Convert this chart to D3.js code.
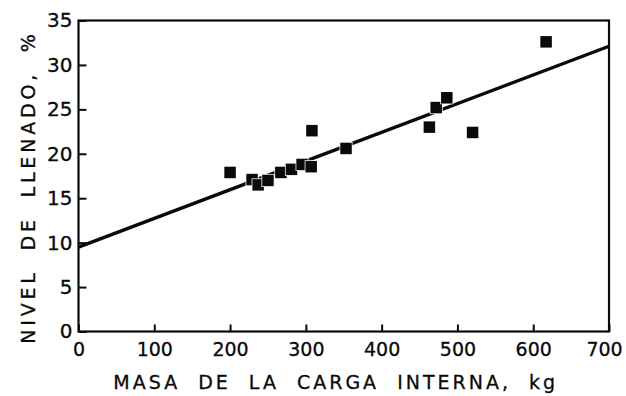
<!DOCTYPE html>
<html>
<head>
<meta charset="utf-8">
<script src="https://cdn.jsdelivr.net/npm/d3@7"></script>
<style>
  body { margin: 0; background: #fff; }
  svg { display: block; }
</style>
</head>
<body>
<svg id="chart"></svg>
<script>
// Measured points: internal load mass (kg) vs fill level (%)
const masa = [200, 229, 237, 250, 267, 281, 295, 307, 308, 353, 463, 472, 486, 520, 617];
const nivel = [17.9, 17.1, 16.5, 17.0, 17.9, 18.25, 18.8, 18.55, 22.6, 20.6, 23.0, 25.2, 26.3, 22.4, 32.6];

// fitted straight line (end points)
const lineX = [0, 700];
const lineY = [9.5, 32.1];

const xTicks = [0, 100, 200, 300, 400, 500, 600, 700];
const yTicks = [0, 5, 10, 15, 20, 25, 30, 35];
const xTickLabels = ["0", "100", "200", "300", "400", "500", "600", "700"];
const yTickLabels = ["0", "5", "10", "15", "20", "25", "30", "35"];

const margin = { top: 20.5, right: 17, bottom: 64.5, left: 78.5 };
const W = 626, H = 396;
const width = W - margin.left - margin.right;
const height = H - margin.top - margin.bottom;
const font = "DejaVu Sans";
const ink = "#0a0a0a";

const x = d3.scaleLinear().domain([0, 700]).range([0, width]);
const y = d3.scaleLinear().domain([0, 35]).range([height, 0]);

const svg = d3.select('#chart')
  .attr('width', W)
  .attr('height', H)
  .append('g')
  .attr('transform', `translate(${margin.left}, ${margin.top})`);

// frame
svg.append('rect')
  .attr('x', 0).attr('y', 0)
  .attr('width', width).attr('height', height)
  .attr('fill', 'none')
  .attr('stroke', ink)
  .attr('stroke-width', 2.2);

// x axis, ticks pointing inward
const xAxis = d3.axisBottom(x)
  .tickValues(xTicks)
  .tickSizeInner(-7)
  .tickSizeOuter(0)
  .tickPadding(11)
  .tickFormat((d, i) => xTickLabels[i]);

const gx = svg.append('g')
  .attr('transform', `translate(0, ${height})`)
  .call(xAxis);
gx.select('.domain').remove();
gx.selectAll('line').attr('stroke', ink).attr('stroke-width', 2);
gx.selectAll('text')
  .attr('font-family', font)
  .attr('font-size', 19)
  .attr('fill', ink)
  .attr('stroke', ink)
  .attr('stroke-width', 0.3)
  .attr('dx', (d, i) => i === xTicks.length - 1 ? -5 : 0);

// y axis, ticks pointing inward
const yAxis = d3.axisLeft(y)
  .tickValues(yTicks)
  .tickSizeInner(-8)
  .tickSizeOuter(0)
  .tickPadding(6)
  .tickFormat((d, i) => yTickLabels[i]);

const gy = svg.append('g').call(yAxis);
gy.select('.domain').remove();
gy.selectAll('line').attr('stroke', ink).attr('stroke-width', 2);
gy.selectAll('text')
  .attr('font-family', font)
  .attr('font-size', 20)
  .attr('fill', ink)
  .attr('stroke', ink)
  .attr('stroke-width', 0.3);

// regression line
svg.append('path')
  .datum(lineX.map((d, i) => [d, lineY[i]]))
  .attr('d', d3.line().x(d => x(d[0])).y(d => y(d[1])))
  .attr('fill', 'none')
  .attr('stroke', ink)
  .attr('stroke-width', 3.4);

// square markers with a white halo (breaks the line like the print)
const s = 11.5;
svg.append('g')
  .selectAll('rect')
  .data(masa.map((d, i) => ({ m: d, n: nivel[i] })))
  .enter().append('rect')
  .attr('x', d => x(d.m) - s / 2)
  .attr('y', d => y(d.n) - s / 2)
  .attr('width', s)
  .attr('height', s)
  .attr('fill', ink)
  .attr('stroke', '#fff')
  .attr('stroke-width', 1.5)
  .attr('paint-order', 'stroke');

// axis titles
svg.append('text')
  .attr('x', width / 2 - 8)
  .attr('y', height + 57)
  .attr('text-anchor', 'middle')
  .attr('font-family', font)
  .attr('font-size', 19)
  .attr('letter-spacing', 3)
  .attr('word-spacing', 9)
  .attr('fill', ink)
  .attr('stroke', ink)
  .attr('stroke-width', 0.3)
  .text('MASA DE LA CARGA INTERNA,  kg');

svg.append('text')
  .attr('transform', `translate(${-margin.left + 35}, ${height / 2 + 11}) rotate(-90)`)
  .attr('text-anchor', 'middle')
  .attr('font-family', font)
  .attr('font-size', 19)
  .attr('letter-spacing', 3.8)
  .attr('word-spacing', 9)
  .attr('fill', ink)
  .attr('stroke', ink)
  .attr('stroke-width', 0.3)
  .text('NIVEL DE LLENADO,  %');
</script>
</body>
</html>
